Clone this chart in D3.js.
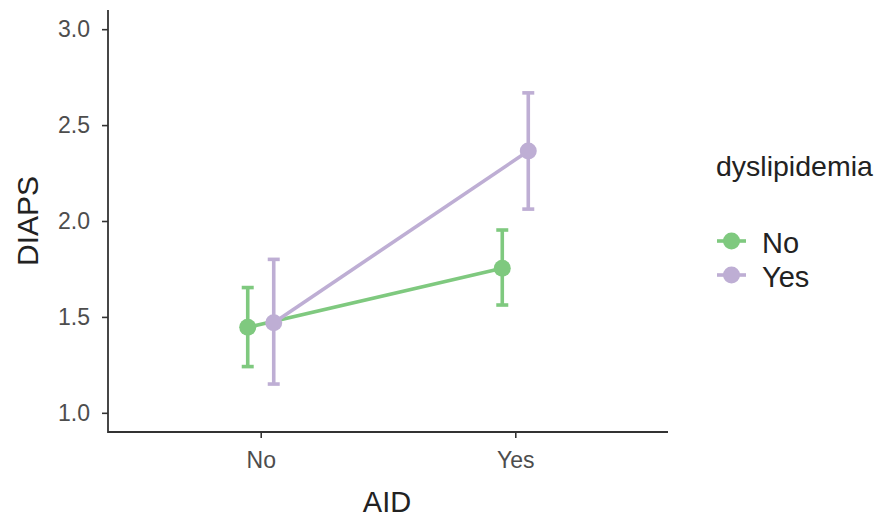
<!DOCTYPE html>
<html>
<head>
<meta charset="utf-8">
<script src="https://cdn.jsdelivr.net/npm/d3@7"></script>
<style>
  html, body { margin: 0; padding: 0; background: #fff; }
  svg text { font-family: "Liberation Sans", Arial, Helvetica, sans-serif; }
</style>
</head>
<body>
<svg id="chart" width="890" height="519"></svg>
<script>
// AID levels on the x axis, dyslipidemia groups as series
const categories = ["No", "Yes"];
const groups = ["No", "Yes"];
const groupColors = ["#7fc97f", "#beaed4"];

// Estimated DIAPS means with lower / upper interval bounds, per AID level
const meanNo = [1.446, 1.754];
const lowerNo = [1.241, 1.562];
const upperNo = [1.653, 1.953];

const meanYes = [1.470, 2.365];
const lowerYes = [1.150, 2.062];
const upperYes = [1.800, 2.668];

const yTicks = [1.0, 1.5, 2.0, 2.5, 3.0];

const series = [
  { group: groups[0], color: groupColors[0], mean: meanNo, lower: lowerNo, upper: upperNo, dodge: -1 },
  { group: groups[1], color: groupColors[1], mean: meanYes, lower: lowerYes, upper: upperYes, dodge: 1 }
];

const svg = d3.select("#chart");
const plot = { left: 108, right: 668, top: 10, bottom: 432 };

const x = d3.scalePoint().domain(categories).range([plot.left, plot.right]).padding(0.6);
const y = d3.scaleLinear().domain([0.9, 3.1]).range([plot.bottom, plot.top]);
const dodgeWidth = 13;
const px = (cat, s) => x(cat) + s.dodge * dodgeWidth;
const strokeW = 3.6;

// Axes
const yAxis = svg.append("g")
  .attr("transform", `translate(${plot.left},0)`)
  .call(d3.axisLeft(y).tickValues(yTicks).tickFormat(d3.format(".1f")).tickSize(6).tickPadding(12));
const xAxis = svg.append("g")
  .attr("transform", `translate(0,${plot.bottom})`)
  .call(d3.axisBottom(x).tickSize(6).tickPadding(8));

[xAxis, yAxis].forEach(a => {
  a.select(".domain").remove();
  a.selectAll(".tick line").attr("stroke", "#333").attr("stroke-width", 1.6);
  a.selectAll(".tick text").attr("fill", "#4d4d4d").style("font-size", "23px");
});
xAxis.selectAll(".tick text").attr("dy", "0.95em");

// Axis lines (L-shaped frame)
svg.append("path")
  .attr("d", `M${plot.left},${plot.top}V${plot.bottom}H${plot.right}`)
  .attr("fill", "none").attr("stroke", "#333").attr("stroke-width", 1.8);

// Axis titles
svg.append("text")
  .attr("x", x.range().reduce((a, b) => a + b) / 2 - 1).attr("y", 512)
  .attr("text-anchor", "middle").attr("fill", "#222")
  .style("font-size", "29px").text("AID");
svg.append("text")
  .attr("transform", `translate(38,${(plot.top + plot.bottom) / 2}) rotate(-90)`)
  .attr("text-anchor", "middle").attr("fill", "#222")
  .style("font-size", "30px").text("DIAPS");

// Series: connecting lines, error bars, points
const line = d3.line();
series.forEach(s => {
  const g = svg.append("g");
  g.append("path")
    .attr("d", line(categories.map((c, i) => [px(c, s), y(s.mean[i])])))
    .attr("fill", "none").attr("stroke", s.color).attr("stroke-width", strokeW);
  categories.forEach((c, i) => {
    const cx = px(c, s);
    g.append("line")
      .attr("x1", cx).attr("x2", cx).attr("y1", y(s.lower[i])).attr("y2", y(s.upper[i]))
      .attr("stroke", s.color).attr("stroke-width", strokeW);
    [s.lower[i], s.upper[i]].forEach(v => {
      g.append("line")
        .attr("x1", cx - 6).attr("x2", cx + 6).attr("y1", y(v)).attr("y2", y(v))
        .attr("stroke", s.color).attr("stroke-width", strokeW);
    });
    g.append("circle").attr("cx", cx).attr("cy", y(s.mean[i])).attr("r", 8.5).attr("fill", s.color);
  });
});

// Legend
const legend = svg.append("g");
legend.append("text").attr("x", 716).attr("y", 176).attr("fill", "#222")
  .style("font-size", "28.5px").text("dyslipidemia");
series.forEach((s, i) => {
  const cy = 241 + i * 34;
  legend.append("line").attr("x1", 717).attr("x2", 746).attr("y1", cy).attr("y2", cy)
    .attr("stroke", s.color).attr("stroke-width", strokeW);
  legend.append("circle").attr("cx", 731.5).attr("cy", cy).attr("r", 8.5).attr("fill", s.color);
  legend.append("text").attr("x", 762).attr("y", cy + 12).attr("fill", "#222")
    .style("font-size", "29px").text(s.group);
});
</script>
</body>
</html>
